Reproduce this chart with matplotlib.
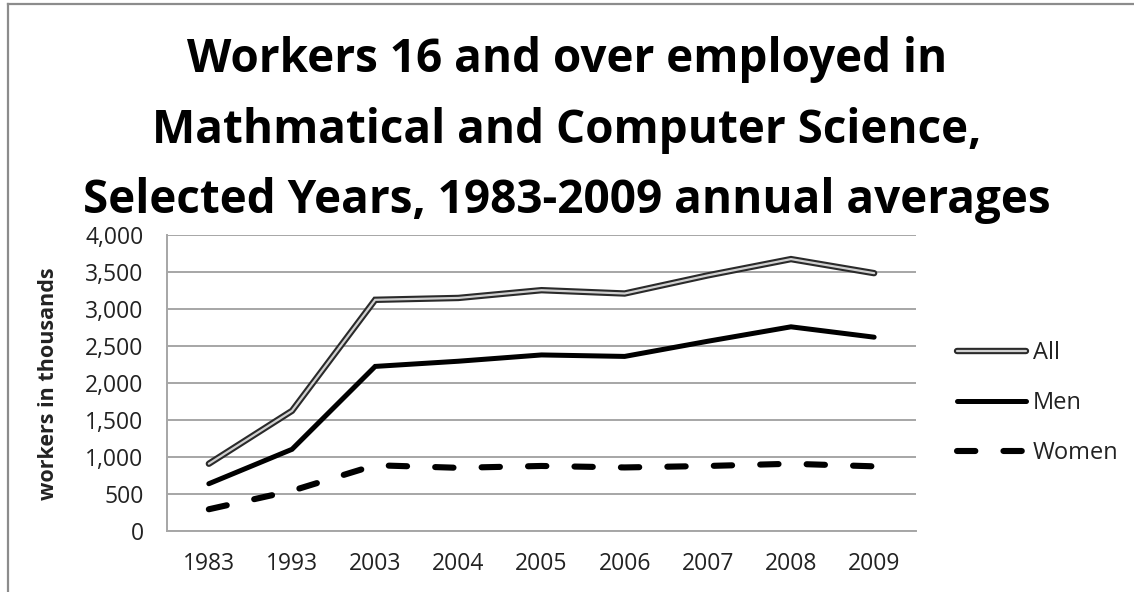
import matplotlib
matplotlib.use("Agg")
import matplotlib.pyplot as plt
import matplotlib.patheffects as pe
from matplotlib.ticker import FuncFormatter, MultipleLocator
from matplotlib.lines import Line2D

years = ["1983", "1993", "2003", "2004", "2005", "2006", "2007", "2008", "2009"]
all_workers = [905, 1620, 3120, 3145, 3250, 3205, 3450, 3670, 3480]
men = [635, 1100, 2220, 2290, 2375, 2355, 2560, 2755, 2615]
women = [290, 540, 885, 850, 875, 855, 875, 905, 870]

title = ("Workers 16 and over employed in\n"
         "Mathmatical and Computer Science,\n"
         "Selected Years, 1983-2009 annual averages")

plt.rcParams["font.family"] = ["Open Sans", "DejaVu Sans"]

W, H = 1134, 592
fig = plt.figure(figsize=(W / 100, H / 100), dpi=100)
ax = fig.add_axes([0.1475, 0.1035, 0.66, 0.5001])

x = list(range(len(years)))

# "All" drawn as a hollow double line: dark outline with a light core
ax.plot(x, all_workers, color="#d0d0d0", lw=1.6, solid_capstyle="round",
        solid_joinstyle="miter", label="All",
        path_effects=[pe.Stroke(linewidth=4.6, foreground="#2a2a2a"), pe.Normal()],
        zorder=4)
ax.plot(x, men, color="black", lw=3.6, solid_capstyle="round",
        solid_joinstyle="miter", label="Men", zorder=4)
ax.plot(x, women, color="black", lw=4.4, dash_capstyle="round",
        dashes=(3.0, 4.6), label="Women", zorder=4)

ax.set_xlim(-0.5, len(years) - 0.5)
ax.set_ylim(0, 4000)
ax.set_xticks(x)
ax.set_xticklabels(years)
ax.yaxis.set_major_locator(MultipleLocator(500))
ax.yaxis.set_major_formatter(FuncFormatter(lambda v, p: f"{int(v):,}"))

ax.grid(axis="y", color="#a6a6a6", lw=1.4)
ax.set_axisbelow(True)
for s in ("top", "right"):
    ax.spines[s].set_visible(False)
for s in ("left", "bottom"):
    ax.spines[s].set_color("#a6a6a6")
    ax.spines[s].set_linewidth(1.4)
ax.tick_params(axis="both", length=0, labelsize=16.5, colors="#222222")
ax.tick_params(axis="y", pad=17)
ax.tick_params(axis="x", pad=15)

ax.set_ylabel("workers in thousands", fontsize=15.5, fontweight="bold",
              color="#222222")
ax.yaxis.set_label_coords(59 / W, 1 - 384 / H, transform=fig.transFigure)

fig.text(0.5, 1 - 130 / H, title, ha="center", va="center", fontsize=33,
         fontweight="bold", linespacing=1.64, color="black")

leg = ax.legend(loc="center left", bbox_to_anchor=(957 / W, 1 - 403 / H),
                bbox_transform=fig.transFigure, frameon=False, fontsize=17,
                handlelength=2.92, handletextpad=0.3, labelspacing=1.1,
                borderaxespad=0, borderpad=0)
for t in leg.get_texts():
    t.set_color("#222222")

# outer chart frame (top and left edges)
fig.add_artist(Line2D([8 / W, 1.0], [1 - 4 / H, 1 - 4 / H],
                      transform=fig.transFigure, color="#8c8c8c", lw=1.6))
fig.add_artist(Line2D([8 / W, 8 / W], [0.0, 1 - 4 / H],
                      transform=fig.transFigure, color="#8c8c8c", lw=1.6))

fig.savefig("out.png", dpi=100)
